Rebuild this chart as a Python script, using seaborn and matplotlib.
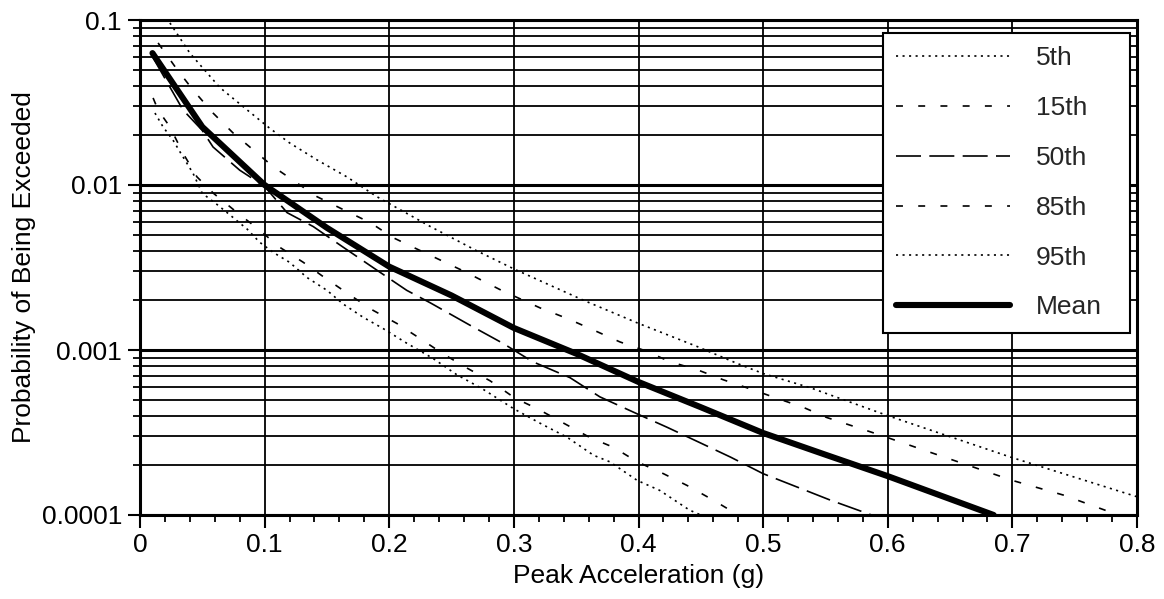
import numpy as np
import pandas as pd
import matplotlib
matplotlib.use("Agg")
import matplotlib.pyplot as plt
from matplotlib.ticker import LogLocator, MultipleLocator, FixedLocator, FixedFormatter, NullFormatter
from matplotlib.lines import Line2D
import seaborn as sns

# ---------------- data ----------------
mean_x = [0.01, 0.05, 0.10, 0.15, 0.20, 0.25, 0.30, 0.35, 0.40, 0.45, 0.50, 0.55, 0.60, 0.65, 0.685]
mean_y = [0.063, 0.0225, 0.0100, 0.0055, 0.0032, 0.00214, 0.00136, 0.00095, 0.00064, 0.00045,
          0.000314, 0.000232, 0.000172, 0.000125, 0.0001]

p95_x = [0.024, 0.040, 0.064, 0.086, 0.104, 0.120, 0.142, 0.166, 0.190, 0.233, 0.27, 0.30, 0.33,
         0.356, 0.399, 0.447, 0.479, 0.50, 0.538, 0.60, 0.698, 0.80]
p95_y = [0.096, 0.063, 0.039, 0.0285, 0.0221, 0.018, 0.0142, 0.0112, 0.0085, 0.0056, 0.0040, 0.0031,
         0.00245, 0.0020, 0.00146, 0.00105, 0.00083, 0.00072, 0.00059, 0.00040, 0.000225, 0.000129]

p85_x = [0.0145, 0.030, 0.0425, 0.0586, 0.0746, 0.107, 0.142, 0.163, 0.185, 0.203, 0.222, 0.26, 0.29,
         0.321, 0.343, 0.364, 0.385, 0.407, 0.425, 0.447, 0.468, 0.490, 0.511, 0.532, 0.551, 0.594,
         0.634, 0.700, 0.741, 0.785]
p85_y = [0.0726, 0.0498, 0.0377, 0.0273, 0.0207, 0.0129, 0.0085, 0.0071, 0.0059, 0.0048, 0.0041, 0.0030,
         0.0023, 0.0018, 0.00155, 0.00132, 0.00112, 0.00098, 0.00085, 0.00076, 0.00066, 0.00058, 0.00051,
         0.00045, 0.00039, 0.000305, 0.00024, 0.000162, 0.000132, 0.0001]

p50_x = [0.01, 0.0345, 0.0498, 0.0586, 0.080, 0.100, 0.118, 0.139, 0.163, 0.190, 0.214, 0.233, 0.265,
         0.291, 0.315, 0.345, 0.369, 0.399, 0.423, 0.449, 0.474, 0.500, 0.530, 0.554, 0.587]
p50_y = [0.060, 0.0285, 0.0215, 0.0170, 0.0123, 0.0098, 0.0068, 0.0056, 0.0042, 0.00305, 0.0023, 0.00193,
         0.00141, 0.0011, 0.00085, 0.00068, 0.00052, 0.00041, 0.00034, 0.000275, 0.000224, 0.000178,
         0.000145, 0.000123, 0.0001]

p15_x = [0.0105, 0.0145, 0.024, 0.0345, 0.0457, 0.059, 0.078, 0.095, 0.112, 0.131, 0.148, 0.169, 0.187,
         0.206, 0.225, 0.243, 0.262, 0.281, 0.301, 0.319, 0.340, 0.361, 0.380, 0.399, 0.420, 0.439,
         0.460, 0.480]
p15_y = [0.0337, 0.0285, 0.0225, 0.0156, 0.0112, 0.0089, 0.0068, 0.0054, 0.0042, 0.0034, 0.00275, 0.00214,
         0.00174, 0.00145, 0.00117, 0.00095, 0.00078, 0.00065, 0.00051, 0.00044, 0.00036, 0.000295,
         0.000257, 0.00021, 0.000178, 0.000151, 0.000123, 0.0001]

p5_x = [0.012, 0.0185, 0.0265, 0.0345, 0.0425, 0.050, 0.062, 0.072, 0.086, 0.096, 0.107, 0.120, 0.134,
        0.150, 0.163, 0.179, 0.195, 0.214, 0.235, 0.254, 0.275, 0.300, 0.321, 0.343, 0.364, 0.377,
        0.399, 0.417, 0.441, 0.450]
p5_y = [0.0273, 0.0225, 0.0187, 0.0148, 0.0118, 0.0089, 0.0076, 0.0066, 0.0054, 0.0045, 0.0039, 0.0034,
        0.00275, 0.0023, 0.0019, 0.00158, 0.00135, 0.0011, 0.00089, 0.00071, 0.00058, 0.00044, 0.00036,
        0.000295, 0.00023, 0.00021, 0.000162, 0.000141, 0.000107, 0.0001]

x_tick_values = [0, 0.1, 0.2, 0.3, 0.4, 0.5, 0.6, 0.7, 0.8]
x_tick_labels = ["0", "0.1", "0.2", "0.3", "0.4", "0.5", "0.6", "0.7", "0.8"]
y_tick_values = [0.0001, 0.001, 0.01, 0.1]
y_tick_labels = ["0.0001", "0.001", "0.01", "0.1"]
series_labels = ["5th", "15th", "50th", "85th", "95th", "Mean"]

# ---------------- style ----------------
sns.set_theme(style="white")
plt.rcParams["font.family"] = ["Liberation Sans", "DejaVu Sans"]
plt.rcParams["lines.scale_dashes"] = False
FS = 19

fig = plt.figure(figsize=(11.64, 5.99), dpi=100)
ax = fig.add_axes([140 / 1164, 1 - 515 / 599, (1137 - 140) / 1164, (515 - 20) / 599])

dotted = (0, (1.5, 3.2))
short_dash = (0, (5, 11))
long_dash = (0, (18, 6))

series = [
    (p5_x, p5_y, dotted, 1.2),
    (p15_x, p15_y, short_dash, 1.2),
    (p50_x, p50_y, long_dash, 1.2),
    (p85_x, p85_y, short_dash, 1.2),
    (p95_x, p95_y, dotted, 1.2),
    (mean_x, mean_y, "-", 4.4),
]
handles = []
for (xs, ys, ls, lw), lab in zip(series, series_labels):
    df = pd.DataFrame({"x": xs, "y": ys})
    sns.lineplot(data=df, x="x", y="y", ax=ax, color="black", linewidth=lw,
                 linestyle=ls, sort=False, estimator=None, legend=False,
                 solid_capstyle="round", zorder=3)
    handles.append(Line2D([], [], color="black", lw=lw, linestyle=ls, solid_capstyle="round"))

ax.set_yscale("log")
ax.set_xlim(0, 0.8)
ax.set_ylim(0.0001, 0.1)

ax.xaxis.set_major_locator(FixedLocator(x_tick_values))
ax.xaxis.set_major_formatter(FixedFormatter(x_tick_labels))
ax.xaxis.set_minor_locator(MultipleLocator(0.02))
ax.yaxis.set_major_locator(FixedLocator(y_tick_values))
ax.yaxis.set_major_formatter(FixedFormatter(y_tick_labels))
ax.yaxis.set_minor_locator(LogLocator(base=10, subs=np.arange(2, 10)))
ax.yaxis.set_minor_formatter(NullFormatter())

ax.set_axisbelow(True)
ax.grid(which="major", axis="y", color="black", lw=2.2)
ax.grid(which="minor", axis="y", color="black", lw=1.3)
ax.grid(which="major", axis="x", color="black", lw=1.3)

ax.tick_params(axis="both", which="major", direction="out", length=9, width=1.5,
               color="black", labelsize=FS, labelcolor="black", pad=4,
               bottom=True, left=True, top=False, right=False)
ax.tick_params(axis="both", which="minor", direction="out", length=5, width=1.3,
               color="black", bottom=True, left=True, top=False, right=False)

for s in ax.spines.values():
    s.set_color("black")
    s.set_linewidth(2.2)
    s.set_visible(True)

ax.set_xlabel("Peak Acceleration (g)", fontsize=FS, color="black", labelpad=5)
ax.set_ylabel("Probability of Being Exceeded", fontsize=FS, color="black", labelpad=4)

# legend box: x 883..1130 px, top at 33 px (axes 140..1137 x, 20..515 y)
lx0 = (883 - 140) / 997
lw_ = (1130 - 883) / 997
ltop = (515 - 33) / 495
leg = ax.legend(handles, series_labels, loc="upper left",
                bbox_to_anchor=(lx0, ltop - 0.5, lw_, 0.5), mode="expand",
                fontsize=FS, frameon=True, fancybox=False, framealpha=1, edgecolor="black",
                handlelength=4.3, handletextpad=1.0, labelspacing=0.98, borderpad=0.5,
                borderaxespad=0)
leg.get_frame().set_linewidth(1.5)
leg.set_zorder(5)

fig.savefig("out.png", dpi=100, facecolor="white")
